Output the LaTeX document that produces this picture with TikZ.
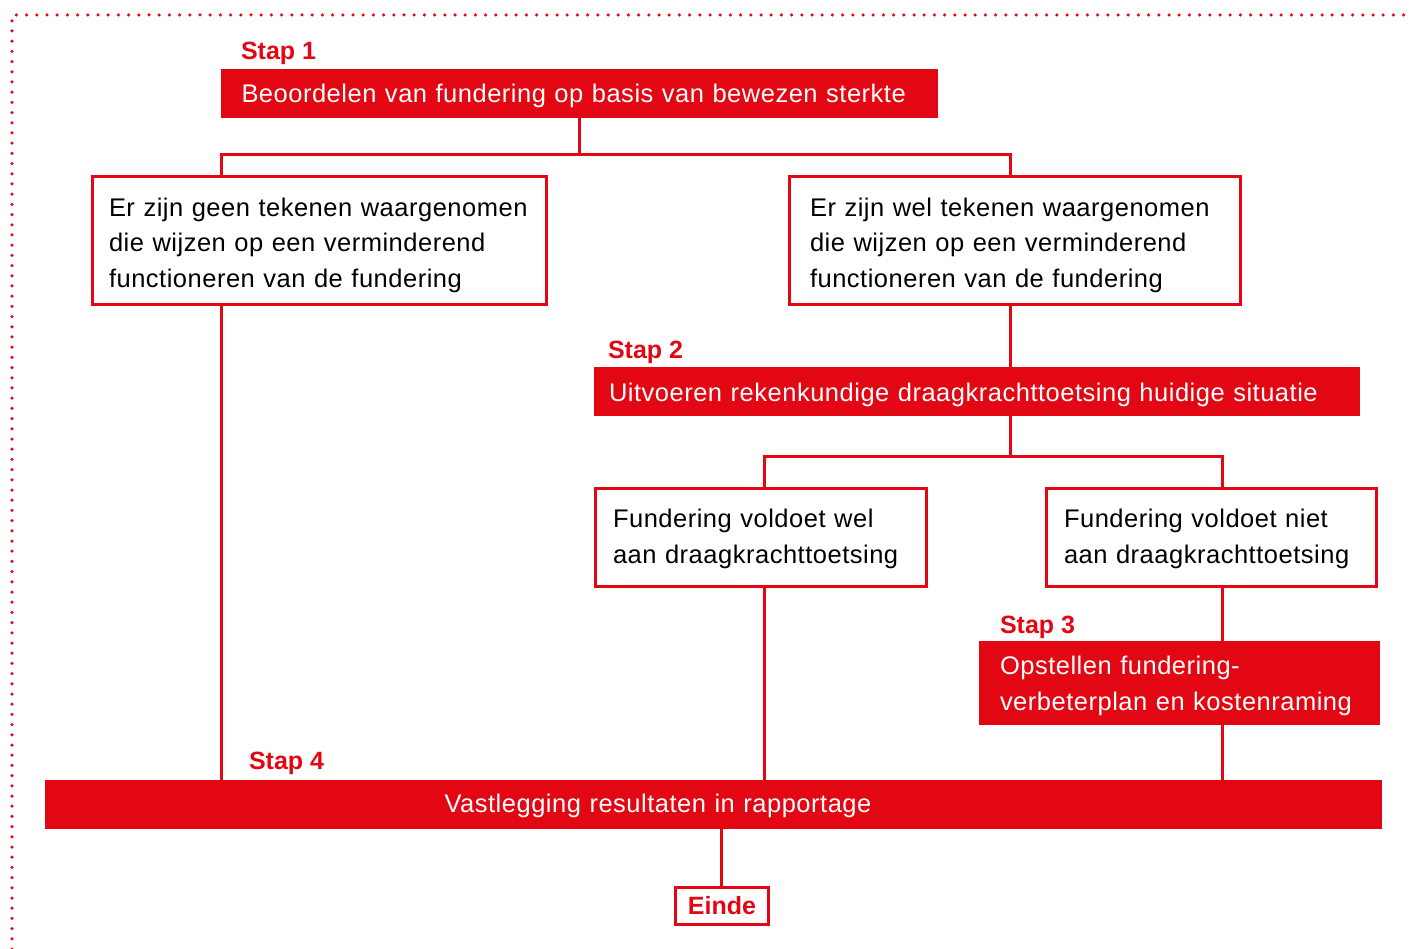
\documentclass[tikz,border=0pt]{standalone}
\usepackage{fontspec}
\setmainfont{Liberation Sans}
\newfontfamily\spacedfont[LetterSpace=2.0]{Liberation Sans}
\newcommand\lift[1]{\rule{0pt}{#1}}
\definecolor{rood}{HTML}{E30613}
\begin{document}
\begin{tikzpicture}[x=1pt,y=-1pt,
  every node/.style={font=\spacedfont\fontsize{25.5}{35.5}\selectfont,outer sep=0pt},
  filled/.style={anchor=north west,fill=rood,text=white,inner xsep=20pt,inner ysep=0pt,align=left},
  outlined/.style={anchor=north west,draw=rood,line width=3pt,text=black,inner xsep=16pt,inner ysep=0pt,align=left},
  staplabel/.style={anchor=base west,text=rood,inner sep=0pt,font=\fontsize{25}{30}\selectfont\bfseries},
  conn/.style={draw=rood,line width=3pt},
  dotline/.style={draw=rood,line width=3.5pt,line cap=round,dash pattern=on 0pt off 10.2pt}]
\useasboundingbox (0,0) rectangle (1411,949);
% dotted frame
\coordinate (fTL) at (12,15);
\coordinate (fTR) at (1411,15);
\coordinate (fBL) at (12,949);
\path[dotline] (fBL) -- (fTL) -- (fTR);
% column coordinates
\coordinate (xL) at (221.5,0);
\coordinate (xR) at (1010,0);
\coordinate (xW) at (764,0);
\coordinate (xN) at (1222,0);
\coordinate (xE) at (721,0);
\coordinate (j1) at (579.5,154.5);
\coordinate (j2) at (1010,456.5);
% step 1
\node[staplabel] (l1) at (241,60) {Stap 1};
\node[filled,minimum width=717pt,minimum height=49pt,text width=676pt] (s1) at (221,69) {\lift{22.6pt}Beoordelen van fundering op basis van bewezen sterkte};
% observation boxes
\node[outlined,minimum width=454pt,minimum height=128pt,text width=421pt] (b2) at (92.5,176.5) {\lift{27.6pt}Er zijn geen tekenen waargenomen\\die wijzen op een verminderend\\functioneren van de fundering};
\node[outlined,minimum width=451pt,minimum height=128pt,text width=410pt,inner xsep=20pt] (b3) at (789.5,176.5) {\lift{27.6pt}Er zijn wel tekenen waargenomen\\die wijzen op een verminderend\\functioneren van de fundering};
% step 2
\node[staplabel] (l2) at (608,359) {Stap 2};
\node[filled,minimum width=766pt,minimum height=49pt,text width=736pt,inner xsep=14.5pt] (s2) at (594,367) {\lift{24.6pt}Uitvoeren rekenkundige draagkrachttoetsing huidige situatie};
% result boxes
\node[outlined,minimum width=331pt,minimum height=98pt,text width=296pt,inner xsep=17.5pt] (b4) at (595.5,488.5) {\lift{21.6pt}Fundering voldoet wel\\aan draagkrachttoetsing};
\node[outlined,minimum width=330pt,minimum height=98pt,text width=295pt,inner xsep=17.5pt] (b5) at (1046.5,488.5) {\lift{21.6pt}Fundering voldoet niet\\aan draagkrachttoetsing};
% step 3
\node[staplabel] (l3) at (1000,633) {Stap 3};
\node[filled,minimum width=401pt,minimum height=84pt,text width=359pt,inner xsep=21pt] (s3) at (979,641) {\lift{24.6pt}Opstellen fundering-\\verbeterplan en kostenraming};
% step 4
\node[staplabel] (l4) at (249,769) {Stap 4};
\node[filled,anchor=north,minimum width=1337pt,minimum height=49pt,text width=1336pt,align=center,inner xsep=0pt] (s4) at (713.5,780) {\hspace*{-111pt}\lift{20.6pt}Vastlegging resultaten in rapportage};
% end
\node[outlined,anchor=north,minimum width=93pt,minimum height=37pt,inner xsep=0pt,text=rood,font=\fontsize{25}{30}\selectfont\bfseries,align=center] (ein) at (722,887.5) {Einde};
% connectors
\draw[conn] (s1.south) -- (j1);
\draw[conn] (b2.north -| xL) |- (j1) -| (b3.north -| xR);
\draw[conn] (b2.south -| xL) -- (s4.north -| xL);
\draw[conn] (b3.south -| xR) -- (s2.north -| xR);
\draw[conn] (s2.south -| xR) -- (j2);
\draw[conn] (b4.north -| xW) |- (j2) -| (b5.north -| xN);
\draw[conn] (b4.south -| xW) -- (s4.north -| xW);
\draw[conn] (b5.south -| xN) -- (s3.north -| xN);
\draw[conn] (s3.south -| xN) -- (s4.north -| xN);
\draw[conn] (s4.south -| xE) -- (ein.north -| xE);
\end{tikzpicture}
\end{document}
